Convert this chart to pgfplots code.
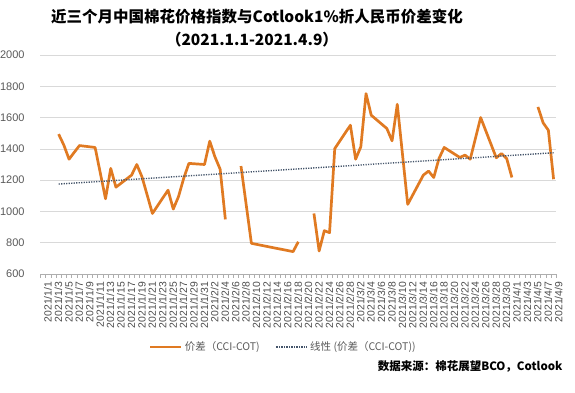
\documentclass[border=0pt]{standalone}
\usepackage{fontspec}
\setmainfont{Liberation Sans}
\newfontfamily\cjk{Noto Sans CJK SC}
\usepackage{pgfplots}
\pgfplotsset{compat=1.18}
\definecolor{lineor}{HTML}{E07A22}
\definecolor{trendc}{HTML}{44546A}
\definecolor{gridc}{HTML}{D9D9D9}
\definecolor{tickc}{HTML}{595959}
\begin{document}
\begin{tikzpicture}
\useasboundingbox (0,0) rectangle (575pt,393pt);
\begin{axis}[
  at={(40.4pt,119pt)}, anchor=south west,
  scale only axis, width=515.8pt, height=219pt,
  xmin=-0.5, xmax=98.5, ymin=600, ymax=2000,
  axis x line*=bottom, axis y line*=left,
  y axis line style={draw=none},
  x axis line style={draw=gridc!80!black, line width=0.6pt},
  ytick={600,800,...,2000},
  ymajorgrids, grid style={gridc, line width=0.6pt},
  ytick style={draw=none},
  xtick={0,2,...,98},
  minor xtick={-0.5,0.5,...,98.5},
  major x tick style={draw=none},
  minor x tick style={draw=gridc!80!black, line width=0.5pt},
  tick align=outside, minor tick length=4pt,
  /pgf/number format/assume math mode=true,
  /pgf/number format/1000 sep={},
  yticklabel style={font=\fontsize{11}{11}\selectfont, text=tickc, xshift=-8pt},
  xticklabel style={font=\fontsize{10.4}{10.4}\selectfont, text=tickc!85!black, rotate=90, anchor=east, yshift=-5pt},
  xticklabels={2021/1/1,2021/1/3,2021/1/5,2021/1/7,2021/1/9,2021/1/11,2021/1/13,2021/1/15,2021/1/17,2021/1/19,2021/1/21,2021/1/23,2021/1/25,2021/1/27,2021/1/29,2021/1/31,2021/2/2,2021/2/4,2021/2/6,2021/2/8,2021/2/10,2021/2/12,2021/2/14,2021/2/16,2021/2/18,2021/2/20,2021/2/22,2021/2/24,2021/2/26,2021/2/28,2021/3/2,2021/3/4,2021/3/6,2021/3/8,2021/3/10,2021/3/12,2021/3/14,2021/3/16,2021/3/18,2021/3/20,2021/3/22,2021/3/24,2021/3/26,2021/3/28,2021/3/30,2021/4/1,2021/4/3,2021/4/5,2021/4/7,2021/4/9},
  unbounded coords=jump,
  legend columns=2,
  legend style={at={(0.471,-0.333)}, anchor=center, draw=none, fill=none,
    font=\cjk\fontsize{10.5}{11}\selectfont, text=tickc,
    /tikz/every even column/.append style={column sep=14pt}},
  legend image code/.code={\draw[#1] (0pt,0pt) -- (31pt,0pt);},
]
\addplot[lineor, line width=2.7pt, line join=round] coordinates {
(3,1494) (4,1424) (5,1334) (6,1378) (7,1421) (10,1409) (12,1081) (13,1275) (14,1155)
(17,1232) (18,1300) (19,1221) (20,1104) (21,987) (24,1136) (25,1015) (26,1094) (27,1211) (28,1307)
(31,1300) (32,1449) (33,1349) (34,1270) (35,949) (36,nan)
(38,1290) (40,796) (48,743) (49,806) (50,nan)
(52,987) (53,747) (54,877) (55,864) (56,1402) (59,1551) (60,1334) (61,1413) (62,1753) (63,1615)
(66,1530) (67,1451) (68,1685) (70,1045) (73,1232) (74,1258) (75,1217) (76,1338) (77,1409)
(80,1345) (81,1360) (82,1334) (84,1600) (87,1343) (88,1370) (89,1338) (90,1217) (92,nan)
(95,1668) (96,1566) (97,1519) (98,1206)
};
\addlegendentry{价差（CCI-COT)}
\addplot[trendc, line width=1.4pt, dash pattern=on 1.2pt off 1.3pt] coordinates {(3,1175) (98,1375)};
\addlegendentry{线性 (价差（CCI-COT))}
\end{axis}
\node[font=\cjk\bfseries\fontsize{15.5}{16}\selectfont] at (257pt,376pt) {近三个月中国棉花价格指数与Cotlook1\%折人民币价差变化};
\node[font=\cjk\bfseries\fontsize{15.5}{16}\selectfont] at (252pt,353pt) {（2021.1.1-2021.4.9）};
\node[font=\cjk\bfseries\fontsize{11.5}{12}\selectfont, anchor=east] at (566pt,27pt) {数据来源：棉花展望BCO，Cotlook};
\end{tikzpicture}
\end{document}
